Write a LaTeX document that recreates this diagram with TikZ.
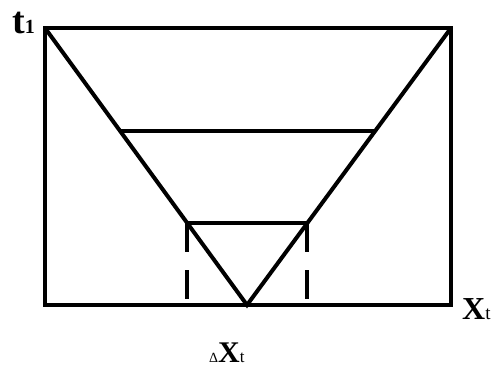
\documentclass[tikz,border=0pt]{standalone}
\usepackage{fontspec}
\setmainfont{Liberation Serif}
\usetikzlibrary{calc}
\tikzset{
  thickline/.style={line width=4pt},
  dashline/.style={line width=4pt, dash pattern=on 29pt off 18pt},
  label/.style={inner sep=0pt, anchor=base west},
}
\begin{document}
\begin{tikzpicture}[x=1pt, y=-1pt]
    \useasboundingbox (0,0) rectangle (501,371);
    % Frame
    \coordinate (tl) at (45,28);
    \coordinate (tr) at (451,28);
    \coordinate (br) at (451,305);
    \coordinate (apex) at (247,305);
    \draw[thickline] (45,28) rectangle (451,305);

    % Funnel
    \draw[thickline] (tl) -- (apex) -- (tr);

    % Cross lines
    \coordinate (ml) at ($(tl)!0.372!(apex)$);
    \coordinate (mr) at ($(tr)!0.372!(apex)$);
    \draw[thickline] (ml) -- (mr);
    \coordinate (ll) at ($(tl)!0.704!(apex)$);
    \coordinate (lr) at ($(tr)!0.704!(apex)$);
    \draw[thickline] (ll) -- (lr);

    % Dashed verticals
    \coordinate (lb) at (ll |- apex);
    \coordinate (rb) at ([yshift=5pt]lr |- apex);
    \draw[dashline] (ll) -- (lb);
    \draw[dashline] (lr) -- (rb);

    % Labels
    \node[label] (t1) at (12,34) {\bfseries\fontsize{38}{38}\selectfont t\fontsize{20}{20}\selectfont 1};
    \node[label] (xt) at (462,320) {\fontsize{32}{32}\selectfont\textbf{X}\fontsize{19}{19}\selectfont t};
    \node[label] (dxt) at (209,363) {\fontsize{14}{14}\selectfont Δ\fontsize{30}{30}\selectfont\textbf{X}\fontsize{17}{17}\selectfont t};
\end{tikzpicture}
\end{document}
